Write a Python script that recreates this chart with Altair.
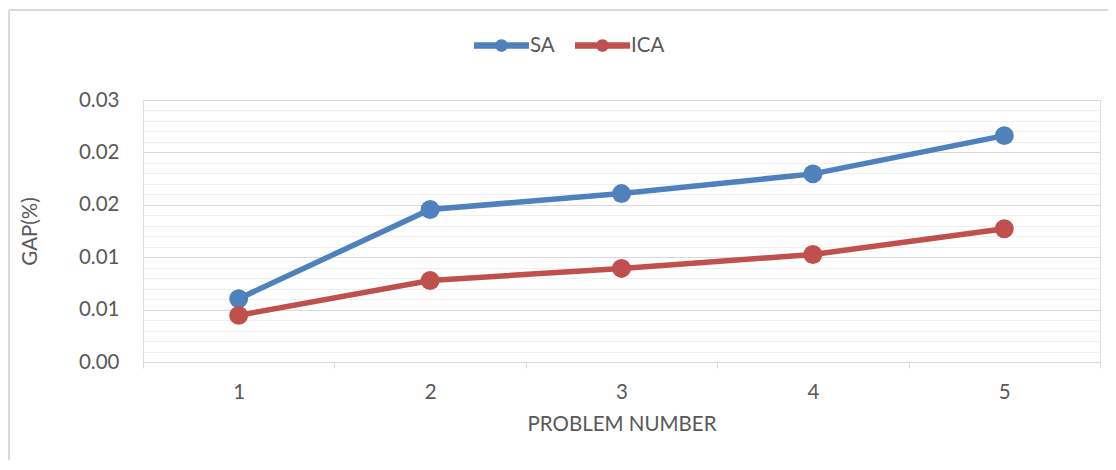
import altair as alt
import pandas as pd

problems = ["1", "2", "3", "4", "5"]
sa_values = [0.00604, 0.01455, 0.01607, 0.01795, 0.02160]
ica_values = [0.00445, 0.00778, 0.00893, 0.01026, 0.01271]
series_names = ["SA", "ICA"]
series_colors = ["#4F81BD", "#C0504D"]

rows = []
for name, vals in zip(series_names, [sa_values, ica_values]):
    for p, v in zip(problems, vals):
        rows.append({"problem": p, "gap": v, "series": name})
df = pd.DataFrame(rows)

y_ticks = [round(i * 0.001, 3) for i in range(0, 26)]

FONT = "Lato"
TXT = "#595959"
FS = 20.5

x_enc = alt.X(
    "problem:N",
    sort=problems,
    scale=alt.Scale(type="band", paddingInner=0, paddingOuter=0),
    axis=alt.Axis(
        title="PROBLEM NUMBER",
        labelAngle=0,
        tickBand="extent",
        grid=False,
        domainColor="#D9D9D9",
        tickColor="#D9D9D9",
        tickSize=6,
        labelPadding=14,
        labelFontSize=FS,
        labelColor=TXT,
        titleFontSize=FS,
        titleFontWeight="normal",
        titleColor=TXT,
        titlePadding=12,
    ),
)

y_enc = alt.Y(
    "gap:Q",
    scale=alt.Scale(domain=[0, 0.025], nice=False, zero=True),
    axis=alt.Axis(
        title="GAP(%)",
        values=y_ticks,
        labelExpr="round(datum.value*1000) % 5 == 0 ? format(datum.value + 1e-9, '.2f') : ''",
        domain=False,
        ticks=False,
        grid=True,
        gridColor=alt.condition("round(datum.value*1000) % 5 == 0", alt.value("#D9D9D9"), alt.value("#EFEFEF")),
        gridWidth=1.2,
        labelPadding=24,
        labelFontSize=FS,
        labelColor=TXT,
        titleFontSize=FS,
        titleFontWeight="normal",
        titleColor=TXT,
        titlePadding=38,
    ),
)

color_scale = alt.Scale(domain=series_names, range=series_colors)

legend_shape = (
    "M-1,-0.12 L1,-0.12 L1,0.12 L-1,0.12 Z "
    "M-0.23,0 A0.23,0.23 0 1,1 0.23,0 A0.23,0.23 0 1,1 -0.23,0 Z"
)

legend = alt.Legend(
    title=None,
    orient="none",
    direction="horizontal",
    legendX=331,
    legendY=-82,
    symbolType=legend_shape,
    symbolSize=3025,
    symbolStrokeWidth=0,
    symbolOpacity=1,
    labelFontSize=FS,
    labelColor=TXT,
    labelFont=FONT,
    labelOffset=1,
    columnPadding=20,
    padding=0,
)

color_enc = alt.Color("series:N", scale=color_scale, sort=series_names, legend=legend)

lines = alt.Chart(df).mark_line(strokeWidth=5.5).encode(
    x=x_enc,
    y=y_enc,
    color=color_enc,
)

points = alt.Chart(df).mark_point(filled=True, size=360, opacity=1).encode(
    x=x_enc,
    y=y_enc,
    color=color_enc,
)

border_left = alt.Chart(pd.DataFrame({"k": [0]})).mark_rule(color="#D9D9D9", strokeWidth=2).encode(
    x=alt.value(-134), y=alt.value(-90), y2=alt.value(370)
)
border_top = alt.Chart(pd.DataFrame({"k": [0]})).mark_rule(color="#D9D9D9", strokeWidth=2).encode(
    x=alt.value(-134), x2=alt.value(970), y=alt.value(-90)
)

chart = (
    alt.layer(border_left, border_top, lines, points)
    .properties(
        width=957,
        height=262,
        autosize=alt.AutoSizeParams(type="none"),
        padding={"left": 135, "top": 92, "right": 8, "bottom": 98},
    )
    .configure_view(stroke=None)
    .configure(font=FONT, background="white")
)

chart.save("out.html", embed_options={"renderer": "svg", "actions": False})
